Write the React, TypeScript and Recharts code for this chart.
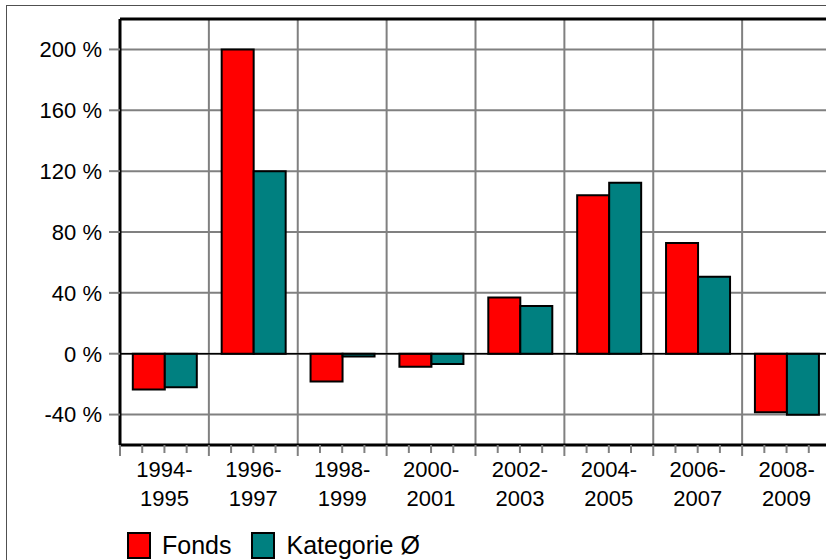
import { BarChart, Bar, XAxis, YAxis, CartesianGrid, ReferenceLine, Legend } from "recharts";

const periods = ["1994-1995", "1996-1997", "1998-1999", "2000-2001", "2002-2003", "2004-2005", "2006-2007", "2008-2009"];
const fonds = [-23.6, 200, -18.2, -8.5, 36.9, 104.2, 72.8, -38.4];
const kategorie = [-22, 120, -1.8, -6.8, 31.4, 112.4, 50.6, -40.1];
const yTicks = [-40, 0, 40, 80, 120, 160, 200];
const yDomain = [-60, 220];

const data = periods.map((period, i) => ({ period, fonds: fonds[i], kategorie: kategorie[i] }));

// chart is wider/taller than the window; the reference is cropped on the right and bottom
const W = 850;
const H = 580;
const PLOT_LEFT = 120;
const PLOT_RIGHT = 831;
const PLOT_TOP = 19;
const PLOT_BOTTOM = 445;
const X_AXIS_H = 70;
const BAND = (PLOT_RIGHT - PLOT_LEFT) / periods.length;

const FONT = "'Liberation Sans', Arial, sans-serif";
const GRID = "#808080";

// vertical grid sits on the category boundaries, not on the centres
const boundaries = periods.map((_, i) => PLOT_LEFT + i * BAND);

const XTick = (props: any) => {
  const { x, y, payload } = props;
  const [from, to] = String(payload.value).split("-");
  const minor = [-0.25, 0, 0.25];
  return (
    <g>
      <line x1={x - BAND / 2} x2={x - BAND / 2} y1={y} y2={y + 11} stroke={GRID} strokeWidth={2} />
      {minor.map((f) => (
        <line key={f} x1={x + f * BAND} x2={x + f * BAND} y1={y} y2={y + 8} stroke={GRID} strokeWidth={2} />
      ))}
      <text x={x} y={y} textAnchor="middle" fontSize={22} fontFamily={FONT} fill="#000">
        <tspan x={x} dy={32}>{from}-</tspan>
        <tspan x={x} dy={29}>{to}</tspan>
      </text>
    </g>
  );
};

const renderLegend = (props: any) => {
  const { payload = [] } = props;
  return (
    <div style={{ display: "flex", fontFamily: FONT, fontSize: 25, lineHeight: "27px", color: "#000" }}>
      {payload.map((item: any, i: number) => (
        <div key={item.value} style={{ display: "flex", marginLeft: i === 0 ? 0 : 20 }}>
          <div
            style={{
              width: 24,
              height: 27,
              boxSizing: "border-box",
              border: "2px solid #000",
              background: item.color,
            }}
          />
          <span style={{ marginLeft: 11, whiteSpace: "nowrap" }}>{item.value}</span>
        </div>
      ))}
    </div>
  );
};

export default function App() {
  return (
    <div style={{ position: "fixed", left: 0, top: 0, width: 826, height: 560, overflow: "hidden", background: "#fff" }}>
      <div
        style={{
          position: "absolute",
          left: 6,
          top: 5,
          width: 900,
          height: 700,
          border: "1px solid #505050",
        }}
      />
      <div style={{ position: "absolute", left: 0, top: 0 }}>
        <BarChart
          width={W}
          height={H}
          data={data}
          margin={{ top: PLOT_TOP, right: W - PLOT_RIGHT, left: 0, bottom: H - PLOT_BOTTOM - X_AXIS_H }}
          barCategoryGap="14.4%"
          barGap={0}
        >
          <CartesianGrid stroke={GRID} strokeWidth={2} verticalPoints={boundaries} />
          <XAxis
            dataKey="period"
            height={X_AXIS_H}
            axisLine={{ stroke: "#000", strokeWidth: 3 }}
            tickLine={false}
            tickSize={0}
            tickMargin={0}
            interval={0}
            tick={<XTick />}
          />
          <YAxis
            width={PLOT_LEFT}
            domain={yDomain}
            ticks={yTicks}
            allowDataOverflow
            axisLine={{ stroke: "#000", strokeWidth: 3 }}
            tickLine={{ stroke: GRID, strokeWidth: 2 }}
            tickSize={11}
            tickMargin={7}
            tickFormatter={(v: number) => `${v} %`}
            tick={{ fill: "#000", fontSize: 22, fontFamily: FONT }}
          />
          <Bar dataKey="fonds" name="Fonds" fill="#FF0000" stroke="#000" strokeWidth={2} isAnimationActive={false} />
          <Bar dataKey="kategorie" name="Kategorie Ø" fill="#008080" stroke="#000" strokeWidth={2} isAnimationActive={false} />
          <ReferenceLine y={0} stroke="#000" strokeWidth={1.5} />
          <ReferenceLine y={220} stroke="#000" strokeWidth={3} />
          <Legend
            layout="horizontal"
            verticalAlign="middle"
            align="center"
            content={renderLegend}
            wrapperStyle={{ position: "absolute", left: 127, top: 532, width: 500, height: 27 }}
          />
        </BarChart>
      </div>
    </div>
  );
}
